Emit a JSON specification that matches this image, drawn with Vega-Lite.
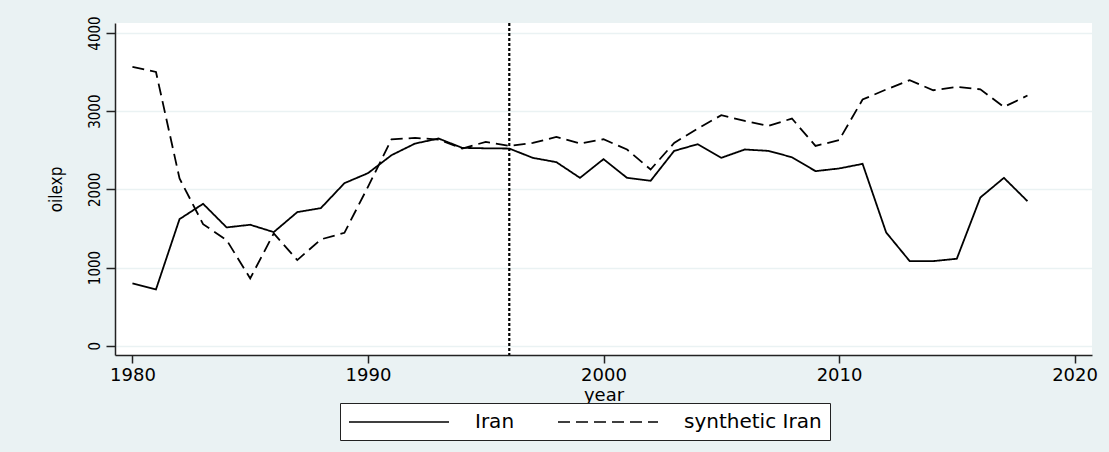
{
  "$schema": "https://vega.github.io/schema/vega-lite/v6.json",
  "autosize": {"type": "none"},
  "padding": {"left": 115, "top": 23, "right": 17, "bottom": 97},
  "width": 977,
  "height": 332,
  "background": "#EAF2F3",
  "config": {
    "view": {"fill": "white", "stroke": null},
    "font": "DejaVu Sans"
  },
  "data": {
    "values": [
      {"year": 1980, "series": "Iran", "value": 797},
      {"year": 1981, "series": "Iran", "value": 720},
      {"year": 1982, "series": "Iran", "value": 1619},
      {"year": 1983, "series": "Iran", "value": 1815},
      {"year": 1984, "series": "Iran", "value": 1513},
      {"year": 1985, "series": "Iran", "value": 1547},
      {"year": 1986, "series": "Iran", "value": 1453},
      {"year": 1987, "series": "Iran", "value": 1709},
      {"year": 1988, "series": "Iran", "value": 1760},
      {"year": 1989, "series": "Iran", "value": 2079},
      {"year": 1990, "series": "Iran", "value": 2207},
      {"year": 1991, "series": "Iran", "value": 2437},
      {"year": 1992, "series": "Iran", "value": 2586},
      {"year": 1993, "series": "Iran", "value": 2650},
      {"year": 1994, "series": "Iran", "value": 2531},
      {"year": 1995, "series": "Iran", "value": 2525},
      {"year": 1996, "series": "Iran", "value": 2522},
      {"year": 1997, "series": "Iran", "value": 2403},
      {"year": 1998, "series": "Iran", "value": 2348},
      {"year": 1999, "series": "Iran", "value": 2147},
      {"year": 2000, "series": "Iran", "value": 2386},
      {"year": 2001, "series": "Iran", "value": 2147},
      {"year": 2002, "series": "Iran", "value": 2109},
      {"year": 2003, "series": "Iran", "value": 2492},
      {"year": 2004, "series": "Iran", "value": 2578},
      {"year": 2005, "series": "Iran", "value": 2403},
      {"year": 2006, "series": "Iran", "value": 2510},
      {"year": 2007, "series": "Iran", "value": 2492},
      {"year": 2008, "series": "Iran", "value": 2411},
      {"year": 2009, "series": "Iran", "value": 2233},
      {"year": 2010, "series": "Iran", "value": 2267},
      {"year": 2011, "series": "Iran", "value": 2326},
      {"year": 2012, "series": "Iran", "value": 1449},
      {"year": 2013, "series": "Iran", "value": 1082},
      {"year": 2014, "series": "Iran", "value": 1082},
      {"year": 2015, "series": "Iran", "value": 1112},
      {"year": 2016, "series": "Iran", "value": 1896},
      {"year": 2017, "series": "Iran", "value": 2147},
      {"year": 2018, "series": "Iran", "value": 1849},
      {"year": 1980, "series": "synthetic Iran", "value": 3566},
      {"year": 1981, "series": "synthetic Iran", "value": 3502},
      {"year": 1982, "series": "synthetic Iran", "value": 2139},
      {"year": 1983, "series": "synthetic Iran", "value": 1555},
      {"year": 1984, "series": "synthetic Iran", "value": 1351},
      {"year": 1985, "series": "synthetic Iran", "value": 861},
      {"year": 1986, "series": "synthetic Iran", "value": 1436},
      {"year": 1987, "series": "synthetic Iran", "value": 1095},
      {"year": 1988, "series": "synthetic Iran", "value": 1360},
      {"year": 1989, "series": "synthetic Iran", "value": 1444},
      {"year": 1990, "series": "synthetic Iran", "value": 2032},
      {"year": 1991, "series": "synthetic Iran", "value": 2640},
      {"year": 1992, "series": "synthetic Iran", "value": 2658},
      {"year": 1993, "series": "synthetic Iran", "value": 2637},
      {"year": 1994, "series": "synthetic Iran", "value": 2522},
      {"year": 1995, "series": "synthetic Iran", "value": 2607},
      {"year": 1996, "series": "synthetic Iran", "value": 2556},
      {"year": 1997, "series": "synthetic Iran", "value": 2594},
      {"year": 1998, "series": "synthetic Iran", "value": 2671},
      {"year": 1999, "series": "synthetic Iran", "value": 2586},
      {"year": 2000, "series": "synthetic Iran", "value": 2641},
      {"year": 2001, "series": "synthetic Iran", "value": 2510},
      {"year": 2002, "series": "synthetic Iran", "value": 2254},
      {"year": 2003, "series": "synthetic Iran", "value": 2594},
      {"year": 2004, "series": "synthetic Iran", "value": 2778},
      {"year": 2005, "series": "synthetic Iran", "value": 2948},
      {"year": 2006, "series": "synthetic Iran", "value": 2876},
      {"year": 2007, "series": "synthetic Iran", "value": 2812},
      {"year": 2008, "series": "synthetic Iran", "value": 2906},
      {"year": 2009, "series": "synthetic Iran", "value": 2556},
      {"year": 2010, "series": "synthetic Iran", "value": 2629},
      {"year": 2011, "series": "synthetic Iran", "value": 3149},
      {"year": 2012, "series": "synthetic Iran", "value": 3277},
      {"year": 2013, "series": "synthetic Iran", "value": 3396},
      {"year": 2014, "series": "synthetic Iran", "value": 3268},
      {"year": 2015, "series": "synthetic Iran", "value": 3310},
      {"year": 2016, "series": "synthetic Iran", "value": 3280},
      {"year": 2017, "series": "synthetic Iran", "value": 3054},
      {"year": 2018, "series": "synthetic Iran", "value": 3200}
    ]
  },
  "layer": [
    {
      "mark": {"type": "line", "color": "black", "strokeWidth": 1.8, "clip": true},
      "encoding": {
        "x": {
          "field": "year", "type": "quantitative",
          "scale": {"domain": [1979.26, 2020.74], "nice": false, "zero": false},
          "axis": {
            "values": [1980, 1990, 2000, 2010, 2020],
            "format": "d",
            "title": "year",
            "grid": false,
            "domainColor": "#222222", "domainWidth": 1.5,
            "tickColor": "#222222", "tickWidth": 1.5, "tickSize": 8,
            "labelFontSize": 18, "labelColor": "black", "labelPadding": 3,
            "labelFont": "DejaVu Sans",
            "titleFontSize": 18, "titleFontWeight": "normal", "titleColor": "black",
            "titlePadding": 2, "titleFont": "DejaVu Sans"
          }
        },
        "y": {
          "field": "value", "type": "quantitative",
          "scale": {"domain": [-119, 4128], "nice": false, "zero": false},
          "axis": {
            "values": [0, 1000, 2000, 3000, 4000],
            "title": "oilexp",
            "format": "d",
            "grid": true, "gridColor": "#EAF2F3", "gridWidth": 1.5,
            "domainColor": "#222222", "domainWidth": 1.5,
            "tickColor": "#222222", "tickWidth": 1.5, "tickSize": 9,
            "labelAngle": -90, "labelAlign": "center", "labelBaseline": "bottom",
            "labelFontSize": 15, "labelFont": "DejaVu Sans Condensed", "labelColor": "black",
            "labelPadding": 4,
            "titleFont": "DejaVu Sans Condensed", "titleFontSize": 17,
            "titleFontWeight": "normal", "titleColor": "black", "titlePadding": 22
          }
        },
        "detail": {"field": "series"},
        "strokeDash": {
          "field": "series", "type": "nominal",
          "scale": {"domain": ["Iran", "synthetic Iran"], "range": [[1, 0], [12, 6]]},
          "legend": {
            "title": null,
            "orient": "none",
            "legendX": 225,
            "legendY": 380,
            "direction": "horizontal",
            "columns": 2,
            "symbolType": "M-1,0H9",
            "symbolSize": 400,
            "symbolStrokeColor": "black",
            "symbolStrokeWidth": 1.5,
            "labelFontSize": 20,
            "labelFont": "DejaVu Sans",
            "labelColor": "black",
            "labelOffset": 105,
            "columnPadding": 40,
            "padding": 8,
            "strokeColor": "#222222",
            "fillColor": "white"
          }
        }
      }
    },
    {
      "data": {"values": [{"year": 1996}]},
      "mark": {"type": "rule", "color": "black", "strokeWidth": 2.2, "strokeDash": [3, 2]},
      "encoding": {
        "x": {"field": "year", "type": "quantitative"}
      }
    }
  ]
}
